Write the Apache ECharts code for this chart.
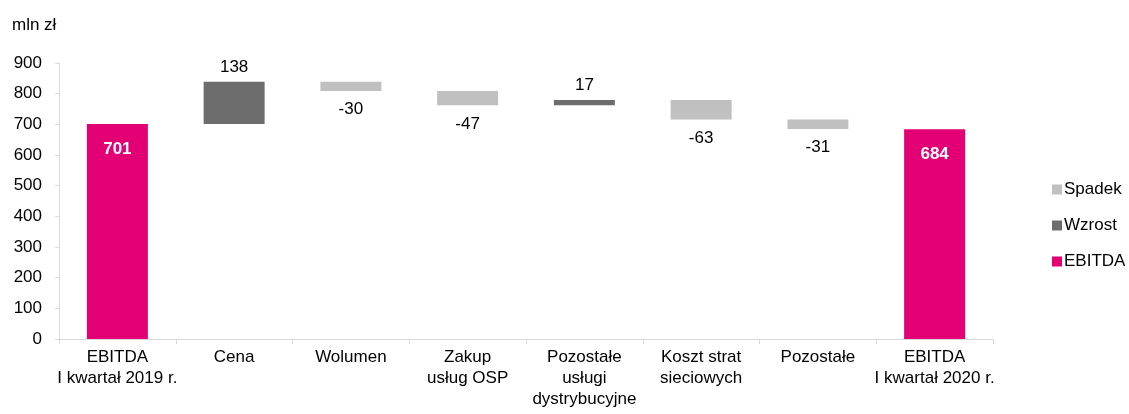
<!DOCTYPE html>
<html>
<head>
<meta charset="utf-8">
<script src="https://cdn.jsdelivr.net/npm/echarts@6/dist/echarts.min.js"></script>
<style>
  html, body { margin: 0; padding: 0; background: #ffffff; }
  #chart { width: 1129px; height: 414px; }
</style>
</head>
<body>
<div id="chart"></div>
<script>
// EBITDA bridge, mln zł
const categories = [
  'EBITDA\nI kwartał 2019 r.',
  'Cena',
  'Wolumen',
  'Zakup\nusług OSP',
  'Pozostałe\nusługi\ndystrybucyjne',
  'Koszt strat\nsieciowych',
  'Pozostałe',
  'EBITDA\nI kwartał 2020 r.'
];
// change per step; first and last entries are the EBITDA totals
const deltas = [701, 138, -30, -47, 17, -63, -31, 684];
const isTotal = [true, false, false, false, false, false, false, true];
const yTicks = [0, 100, 200, 300, 400, 500, 600, 700, 800, 900];

// Build the invisible base plus the visible pieces of the bridge
const base = [], down = [], up = [], total = [];
let running = 0;
deltas.forEach((d, i) => {
  if (isTotal[i]) {
    base.push(0); total.push(d); up.push('-'); down.push('-');
    running = d;
  } else if (d >= 0) {
    base.push(running); up.push(d); down.push('-'); total.push('-');
    running += d;
  } else {
    running += d;
    base.push(running); down.push(-d); up.push('-'); total.push('-');
  }
});

const FONT = '"Liberation Sans", Arial, sans-serif';
const FS = 17;
const chart = echarts.init(document.getElementById('chart'));
chart.setOption({
  animation: false,
  textStyle: { fontFamily: FONT },
  graphic: [{
    type: 'text', left: 12, top: 17,
    style: { text: 'mln zł', font: FS + 'px ' + FONT, fill: '#000' }
  }],
  legend: {
    orient: 'vertical',
    left: 1047,
    top: 176,
    itemGap: 19,
    itemWidth: 10,
    itemHeight: 10,
    icon: 'rect',
    data: ['Spadek', 'Wzrost', 'EBITDA'],
    textStyle: { fontSize: FS, color: '#000', fontFamily: FONT, padding: [0, 0, 0, -3] }
  },
  grid: { left: 59, right: 136, top: 63, bottom: 75 },
  xAxis: {
    type: 'category',
    data: categories,
    axisLine: { lineStyle: { color: '#d9d9d9', width: 1 } },
    axisTick: { show: true, length: 5, lineStyle: { color: '#d9d9d9' } },
    axisLabel: {
      interval: 0, color: '#000', fontSize: FS, lineHeight: 21,
      margin: 8, fontFamily: FONT
    }
  },
  yAxis: {
    type: 'value',
    min: yTicks[0],
    max: yTicks[yTicks.length - 1],
    interval: 100,
    splitLine: { show: false },
    axisLine: { show: true, lineStyle: { color: '#d9d9d9', width: 1 } },
    axisTick: { show: true, length: 4, lineStyle: { color: '#d9d9d9' } },
    axisLabel: { color: '#000', fontSize: FS, margin: 17, fontFamily: FONT }
  },
  series: [
    {
      name: 'base', type: 'bar', stack: 'w', data: base,
      itemStyle: { color: 'transparent' }, silent: true,
      barWidth: 61
    },
    {
      name: 'Spadek', type: 'bar', stack: 'w', data: down,
      itemStyle: { color: '#c0c0c0' },
      label: {
        show: true, position: 'bottom', distance: 10,
        fontSize: FS, color: '#000', fontFamily: FONT,
        formatter: p => String(deltas[p.dataIndex])
      }
    },
    {
      name: 'Wzrost', type: 'bar', stack: 'w', data: up,
      itemStyle: { color: '#6d6d6d' },
      label: {
        show: true, position: 'top', distance: 6,
        fontSize: FS, color: '#000', fontFamily: FONT,
        formatter: p => String(deltas[p.dataIndex])
      }
    },
    {
      name: 'EBITDA', type: 'bar', stack: 'w', data: total,
      itemStyle: { color: '#e20074' },
      label: {
        show: true, position: 'insideTop', distance: 17,
        fontSize: FS, fontWeight: 'bold', color: '#fff', fontFamily: FONT,
        formatter: p => String(deltas[p.dataIndex])
      }
    }
  ]
});
</script>
</body>
</html>
